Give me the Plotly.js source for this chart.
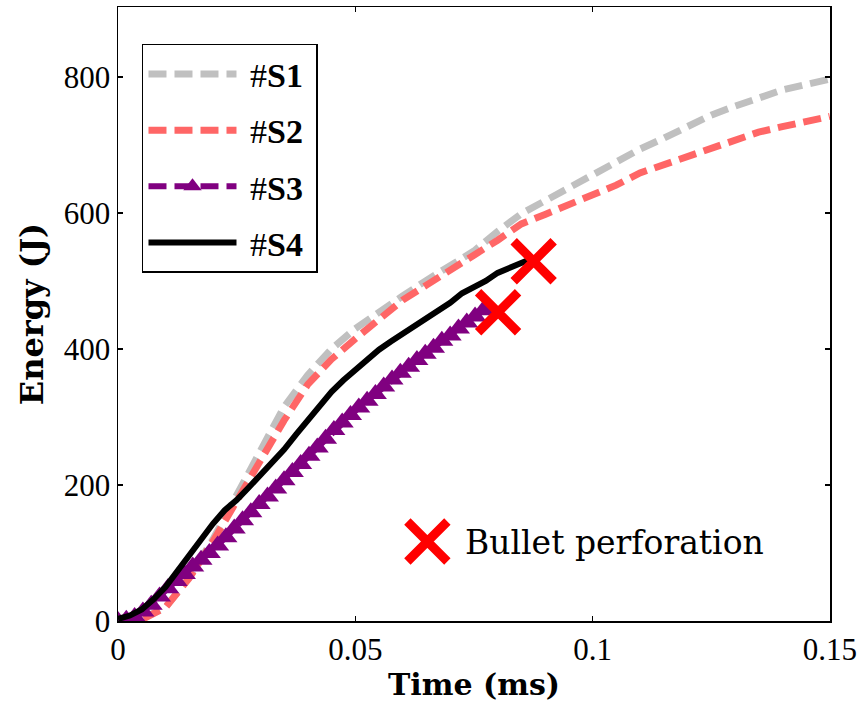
<!DOCTYPE html>
<html>
<head>
<meta charset="utf-8">
<script src="https://cdn.plot.ly/plotly-3.0.1.min.js"></script>
<style>html,body{margin:0;padding:0;background:#fff;}#chart{width:857px;height:704px;}</style>
</head>
<body>
<div id="chart"></div>
<script>
// ---- data (time in ms, energy in J) ----
var timeS1S2 = [0,0.005,0.01,0.015,0.02,0.025,0.03,0.035,0.04,0.045,0.05,0.055,0.06,0.065,0.07,0.075,0.08,0.085,0.09,0.095,0.1,0.105,0.11,0.115,0.12,0.125,0.13,0.135,0.14,0.145,0.15];
var energyS1 = [0,3,20,64,120,185,252,315,362,400,430,455,478,501,523,544,573,599,618,637,655,675,694,710,727,744,757,769,781,789,797];
var energyS2 = [0,2,20,63,117,176,237,295,348,385,415,443,472,494,515,538,560,584,598,612,626,641,659,671,682,696,708,719,727,735,742];

var timeS3 = [0,0.00175,0.0035,0.00525,0.007,0.00875,0.0105,0.01225,0.014,0.01575,0.0175,0.01925,0.021,0.02275,0.0245,0.02625,0.028,0.02975,0.0315,0.03325,0.035,0.03675,0.0385,0.04025,0.042,0.04375,0.0455,0.04725,0.049,0.05075,0.0525,0.05425,0.056,0.05775,0.0595,0.06125,0.063,0.06475,0.0665,0.06825,0.07,0.07175,0.0735,0.07525,0.077];
var energyS3 = [0,2,6,14,24,36,48,59,69,80,90,100,111,123,136,148,160,172,183,195,207,219,231,243,255,268,281,292,303,314,324,334,345,355,365,374,384,393,402,412,420,430,439,448,457];

var timeS4 = [0,0.0025,0.005,0.0075,0.01,0.0125,0.015,0.0175,0.02,0.0225,0.025,0.0275,0.03,0.0325,0.035,0.0375,0.04,0.0425,0.045,0.0475,0.05,0.0525,0.055,0.0575,0.06,0.0625,0.065,0.0675,0.07,0.0725,0.075,0.0775,0.08,0.0825,0.085,0.0865];
var energyS4 = [3,8,17,32,50,73,96,121,143,163,178,196,214,234,252,274,296,318,337,354,369,385,399,411,422,434,444,456,468,482,491,500,512,520,528,531];

var perfTime = [0.0876, 0.0801];
var perfEnergy = [529, 454];
var keyTime = [0.0652];
var keyEnergy = [117];

var seriesNames = ['&nbsp;#<b>S1</b>&nbsp;', '&nbsp;#<b>S2</b>&nbsp;', '&nbsp;#<b>S3</b>&nbsp;', '&nbsp;#<b>S4</b>&nbsp;'];
var keyLabel = 'Bullet perforation';
var xTickVals = [0, 0.05, 0.1, 0.15];
var xTickText = ['0', '0.05', '0.1', '0.15'];
var yTickVals = [0, 200, 400, 600, 800];
var yTickText = ['0', '200', '400', '600', '800'];

var serif = 'Liberation Serif, Times New Roman, serif';
var serifWide = 'DejaVu Serif, serif';

var traces = [
  {x: timeS1S2, y: energyS1, name: seriesNames[0], legendgroup: 'g1', mode: 'lines',
   line: {color: '#c0c0c0', width: 7, dash: '18px,8px'}},
  {x: timeS1S2, y: energyS2, name: seriesNames[1], legendgroup: 'g2', mode: 'lines',
   line: {color: '#ff6666', width: 7, dash: '18px,8px'}},
  {x: timeS3, y: energyS3, name: seriesNames[2], legendgroup: 'g3', mode: 'lines+markers',
   line: {color: '#800080', width: 6, dash: '18px,8px'},
   marker: {symbol: 'triangle-up', size: 20, color: '#800080'}},
  {x: timeS4, y: energyS4, name: seriesNames[3], legendgroup: 'g4', mode: 'lines',
   line: {color: '#000000', width: 6}},
  {x: perfTime, y: perfEnergy, mode: 'markers', showlegend: false, hoverinfo: 'skip',
   marker: {symbol: 'x-thin-open', size: 40, color: '#ff0000', line: {color: '#ff0000', width: 9}}},
  {x: keyTime, y: keyEnergy, mode: 'markers', showlegend: false, hoverinfo: 'skip',
   marker: {symbol: 'x-thin-open', size: 40, color: '#ff0000', line: {color: '#ff0000', width: 9}}}
];

var layout = {
  width: 857, height: 704,
  margin: {l: 118, r: 27, t: 7, b: 83},
  paper_bgcolor: '#ffffff', plot_bgcolor: '#ffffff',
  showlegend: true,
  font: {family: serif, color: '#000000', size: 30},
  xaxis: {
    range: [0, 0.15005], tickvals: xTickVals, ticktext: xTickText,
    ticks: 'inside', ticklen: 5, tickwidth: 1.5, tickcolor: '#000',
    showline: true, linecolor: '#000', linewidth: 1.5, mirror: 'ticks',
    showgrid: false, zeroline: false,
    tickfont: {family: serif, size: 31, color: '#000'},
    title: {text: '<b>Time (ms)</b>', font: {family: serifWide, size: 30, color: '#000'}, standoff: 8}
  },
  yaxis: {
    range: [0, 903], tickvals: yTickVals, ticktext: yTickText,
    ticks: 'inside', ticklen: 5, tickwidth: 1.5, tickcolor: '#000',
    showline: true, linecolor: '#000', linewidth: 1.5, mirror: 'ticks',
    showgrid: false, zeroline: false,
    tickfont: {family: serif, size: 31, color: '#000'},
    title: {text: '<b>Energy (J)</b>', font: {family: serifWide, size: 32, color: '#000'}, standoff: 10}
  },
  legend: {
    x: 0.0337, y: 0.94, xanchor: 'left', yanchor: 'top',
    bgcolor: '#ffffff', bordercolor: '#000000', borderwidth: 1.5,
    font: {family: serif, size: 34, color: '#000'},
    tracegroupgap: 9, itemwidth: 88, traceorder: 'grouped'
  },
  annotations: [{
    x: keyTime[0], y: keyEnergy[0], xref: 'x', yref: 'y',
    text: keyLabel, showarrow: false, xanchor: 'left', yanchor: 'middle',
    xshift: 36, yshift: -1,
    font: {family: serifWide, size: 33, color: '#000'}
  }]
};

Plotly.newPlot('chart', traces, layout, {displayModeBar: false, staticPlot: true});
</script>
</body>
</html>
